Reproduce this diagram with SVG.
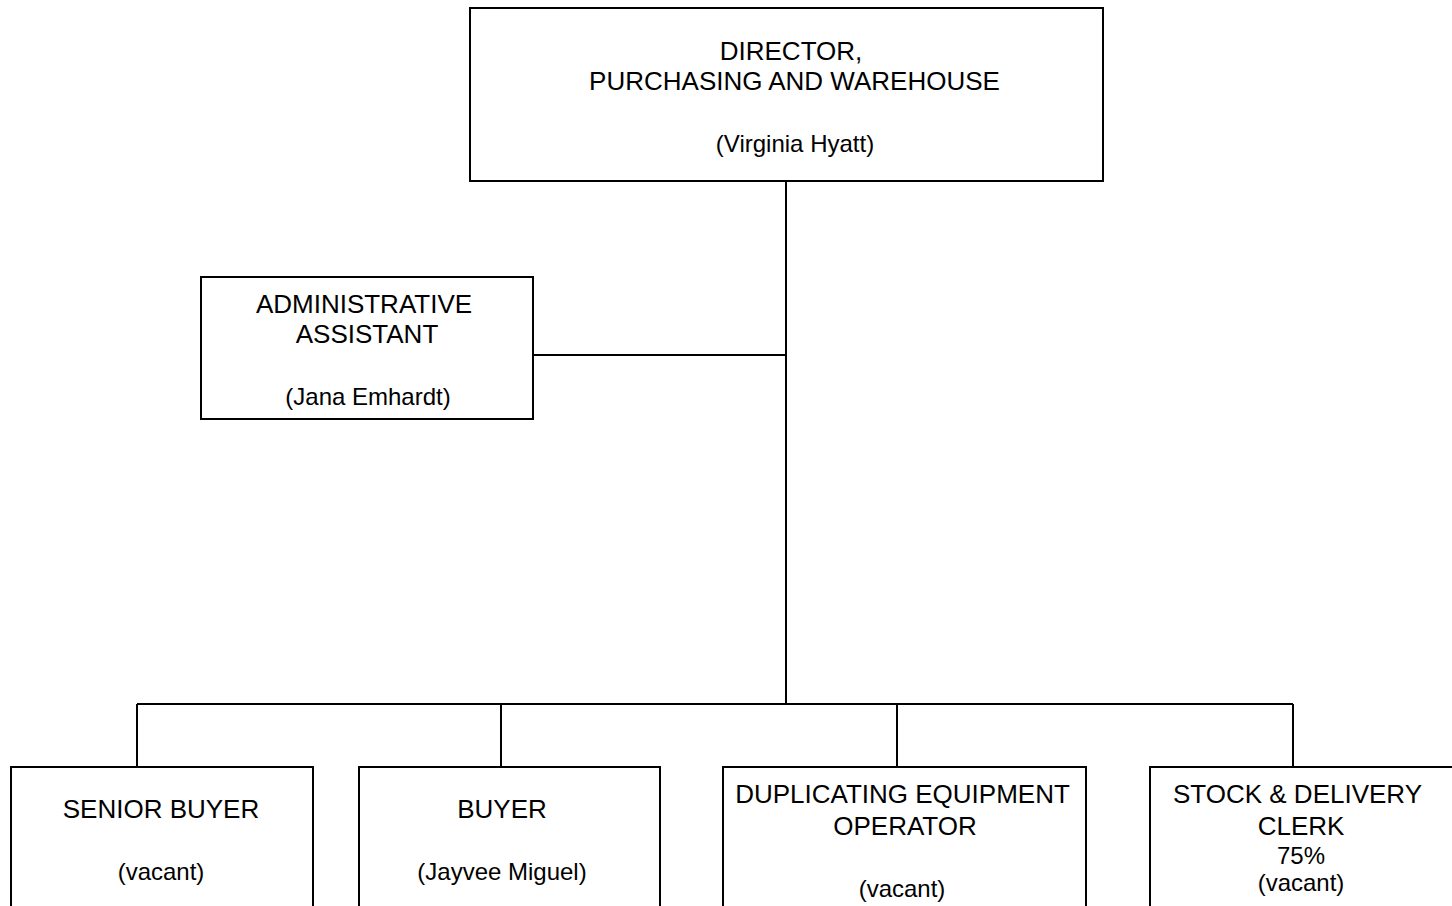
<svg xmlns="http://www.w3.org/2000/svg" width="1452" height="906" viewBox="0 0 1452 906">
<style>
.box{fill:#fff;stroke:#000;stroke-width:2}
.ln{stroke:#000;stroke-width:2;fill:none}
text{font-family:"Liberation Sans",Arial,sans-serif;font-size:26px;fill:#000;text-anchor:middle}
text.n{font-size:24px}
</style>
<rect width="1452" height="906" fill="#fff"/>
<g id="connectors">
<line class="ln" x1="786" y1="181" x2="786" y2="704"/>
<line class="ln" x1="533" y1="355" x2="786" y2="355"/>
<line class="ln" x1="137" y1="704" x2="1293" y2="704"/>
<line class="ln" x1="137" y1="704" x2="137" y2="767"/>
<line class="ln" x1="501" y1="704" x2="501" y2="767"/>
<line class="ln" x1="897" y1="704" x2="897" y2="767"/>
<line class="ln" x1="1293" y1="704" x2="1293" y2="767"/>
</g>
<g id="director">
<rect class="box" x="470" y="8" width="633" height="173"/>
<text x="791" y="60">DIRECTOR,</text>
<text x="794.5" y="90">PURCHASING AND WAREHOUSE</text>
<text class="n" x="795" y="152">(Virginia Hyatt)</text>
</g>
<g id="admin">
<rect class="box" x="201" y="277" width="332" height="142"/>
<text x="364" y="313">ADMINISTRATIVE</text>
<text x="367" y="343">ASSISTANT</text>
<text class="n" x="368" y="405">(Jana Emhardt)</text>
</g>
<g id="senior">
<rect class="box" x="11" y="767" width="302" height="150"/>
<text x="161" y="818">SENIOR BUYER</text>
<text class="n" x="161" y="880">(vacant)</text>
</g>
<g id="buyer">
<rect class="box" x="359" y="767" width="301" height="150"/>
<text x="502" y="818">BUYER</text>
<text class="n" x="502" y="880">(Jayvee Miguel)</text>
</g>
<g id="duplicating">
<rect class="box" x="723" y="767" width="363" height="150"/>
<text x="902.5" y="803">DUPLICATING EQUIPMENT</text>
<text x="905" y="835">OPERATOR</text>
<text class="n" x="902" y="897">(vacant)</text>
</g>
<g id="stock">
<rect class="box" x="1150" y="767" width="310" height="150"/>
<text x="1297.5" y="803">STOCK &amp; DELIVERY</text>
<text x="1301" y="835">CLERK</text>
<text class="n" x="1301" y="864">75%</text>
<text class="n" x="1301" y="891">(vacant)</text>
</g>
</svg>
